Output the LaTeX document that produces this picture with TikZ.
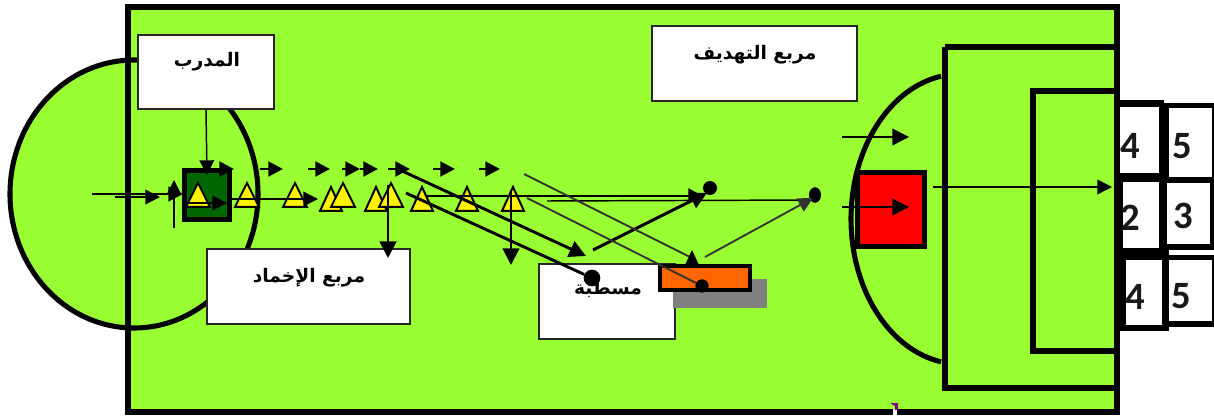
\documentclass[tikz,border=0pt]{standalone}
\usepackage{fontspec}
\usetikzlibrary{arrows.meta}
\TeXXeTstate=1
\newfontfamily\arabicfont[Script=Arabic]{DejaVu Sans}
\setmainfont{Carlito}
\definecolor{pitch}{HTML}{99FF33}
\definecolor{dgreen}{HTML}{006600}
\definecolor{orng}{HTML}{FF6600}
\tikzset{
  fieldline/.style={line width=4.3pt,draw=black},
  whitebox/.style={draw=black!85,line width=1.1pt,fill=white,inner sep=0pt},
  lbl/.style={font=\arabicfont\bfseries\fontsize{14}{16}\selectfont,text=black,inner sep=0pt},
  num/.style={font=\bfseries\fontsize{29}{31}\selectfont,text=black!90,inner sep=0pt},
  ball/.style={circle,fill=black,inner sep=0pt,minimum size=10.5pt},
  marker/.style={draw=black,fill=yellow,line width=1.5pt,line join=miter},
  tip/.style={-{Triangle[length=11pt,width=11pt]}},
  bigtip/.style={-{Triangle[length=12.5pt,width=12.5pt]}},
  thin line/.style={line width=1.1pt},
  mid line/.style={line width=1.7pt},
  thick line/.style={line width=2.2pt},
  faded/.style={line width=1.4pt,draw=black!80}
}
\newcommand{\ymark}[3]{\path[marker] (#1,#2) -- (#1+#3,#2+24) -- (#1-#3,#2+24) -- cycle;}
\begin{document}
\begin{tikzpicture}[x=0.75pt,y=-0.75pt]
\useasboundingbox (0,0) rectangle (1214,417);
% pitch
\fill[pitch] (134,194) ellipse[x radius=93pt,y radius=100.5pt];
\fill[pitch] (128,7) rectangle (1117,412);
\draw[line width=3.8pt] (134,194) ellipse[x radius=93pt,y radius=100.5pt];
\draw[fieldline] (128,7) rectangle (1117,412);
\draw[fieldline] (945,47) -- (1117,47) (945,47) -- (945,388) -- (1117,388);
\draw[fieldline] (1115,91) -- (1033,91) -- (1033,351) -- (1115,351);
\draw[line width=3.8pt] plot[domain=100:260,samples=70,smooth] ({960+109*cos(\x)},{219+145*sin(\x)});
% goal boxes
\fill[black] (1117,100) rectangle (1164,250);
\fill[black] (1164,103) rectangle (1214,250);
\fill[black] (1117,250) rectangle (1169,331);
\fill[black] (1169,255) rectangle (1214,327);
\fill[white] (1120,107) rectangle (1159,173);
\fill[white] (1169,108) rectangle (1212,177);
\fill[white] (1123,182) rectangle (1159,248);
\fill[white] (1167,183) rectangle (1210,244);
\fill[white] (1126,260) rectangle (1162,325);
\fill[white] (1169,260) rectangle (1212,321);
\fill[white] (1169,251.5) rectangle (1214,253);
\node[num] (n4a) at (1130,146) {4};
\node[num] (n5a) at (1182,146) {5};
\node[num] (n2)  at (1130,218) {2};
\node[num] (n3)  at (1183,216) {3};
\node[num] (n4b) at (1135,297) {4};
\node[num] (n5b) at (1181,296) {5};
% label boxes
\node[whitebox,minimum width=102pt,minimum height=55.5pt] (coach) at (206,72) {};
\node[lbl] (coachT) at (207,62) {\beginR المدرب\endR};
\node[whitebox,minimum width=153.5pt,minimum height=56pt] (target) at (754.5,63.5) {};
\node[lbl] (targetT) at (755,55) {\beginR مربع التهديف\endR};
\node[whitebox,minimum width=152pt,minimum height=56.5pt] (cool) at (308.5,286.5) {};
\node[lbl] (coolT) at (309,278) {\beginR مربع الإخماد\endR};
\node[whitebox,minimum width=102pt,minimum height=56pt] (bench) at (607,301.5) {};
\node[lbl] (benchT) at (608,289) {\beginR مسطبة\endR};
% bench block
\fill[black!50] (673,279) rectangle (767,308);
\node[draw=black,fill=orng,line width=3pt,inner sep=0pt,minimum width=67pt,minimum height=18pt] (block) at (705,277.5) {};
% squares
\node[draw=black,fill=dgreen,line width=3.7pt,inner sep=0pt,minimum width=34pt,minimum height=37pt] (start) at (207,195) {};
\node[draw=black,fill=red,line width=3.7pt,inner sep=0pt,minimum width=50pt,minimum height=55.5pt] (goalie) at (891,209.5) {};
% named ends
\foreach \n/\x/\y in {a1/92/194,a2/183/194,b1/115/197,b2/160/197,c1/174/228,c2/174/180,
  d2/207/175,e1/205/169,e2/234/169,f1/187/203,f2/227/203,g1/230/199,g2/318/199,
  h1/388/185,h2/388/258,i1/427/196,i2/703/196,j1/593/250,j2/707/193,k1/547/201,k2/812/200,m1/705/257,m2/813/198,
  n1/524/174,n2/692/258,o1/527/198,p1/400/170,p2/586/256,q1/406/193,
  r1/511/190,r2/511/265,s1/842/137,s2/909/137,u1/842/207,u2/909/207,v1/933/187,v2/1112/187,
  w1/260/169,w2/283/169,w3/308/169,w4/330/169,w5/342/169,w6/360/169,w7/378/169,w8/388/169,
  w9/410/169,w10/433/169,w11/455/169,w12/479/169,w13/500/169}
  {\coordinate (\n) at (\x,\y);}
% balls
\node[ball] (ballA) at (710,188) {};
\node[ball,minimum size=10pt] (ballC) at (702,286) {};
\node[ball,minimum size=12.5pt] (ballD) at (592,278) {};
\node[circle,fill=black,inner sep=0pt,minimum width=9pt,minimum height=9pt,yscale=1.3] (ballB) at (815,195) {};
% markers
\ymark{198}{183}{12}
\ymark{247}{183}{12}
\ymark{295}{183}{12}
\ymark{331}{187}{11}
\ymark{343}{183}{12}
\ymark{376}{187}{11}
\ymark{391}{183}{12}
\ymark{422}{187}{11}
\ymark{467}{187}{11}
\ymark{513}{187}{11}
% short arrows
\draw[thick line,tip] (e1) -- (e2);
\draw[thick line,tip] (w1) -- (w2);
\draw[thick line,tip] (w3) -- (w4);
\draw[thick line,tip] (w5) -- (w6);
\draw[thick line,tip] (w6) -- (w7);
\draw[thick line,tip] (w8) -- (w9);
\draw[thick line,tip] (w10) -- (w11);
\draw[thick line,tip] (w12) -- (w13);
% main flow
\draw[mid line,tip] (a1) -- (a2);
\draw[thin line,tip] (b1) -- (b2);
\draw[thin line,tip] (c1) -- (c2);
\draw[thin line,tip] (coach.south) -- (d2);
\draw[mid line,tip] (f1) -- (f2);
\draw[thin line,tip] (g1) -- (g2);
\draw[thick line,bigtip] (h1) -- (h2);
\draw[thick line,tip] (i1) -- (i2);
\draw[thick line,bigtip] (j1) -- (j2);
\draw[thin line] (k1) -- (k2);
\draw[faded,tip] (m1) -- (m2);
\draw[faded] (n1) -- (n2);
\fill[black] (692,250) -- (699,265) -- (685,265) -- cycle;
\draw[faded] (o1) -- (ballC);
\draw[thick line,bigtip] (p1) -- (p2);
\draw[thick line] (q1) -- (ballD);
\draw[mid line,bigtip] (r1) -- (r2);
\draw[thin line,bigtip] (s1) -- (s2);
\draw[thin line,bigtip] (u1) -- (u2);
\draw[thin line,tip] (v1) -- (v2);
% stray mark on the border
\fill[white] (893,409) rectangle (897,417);
\fill[violet] (890,403) -- (898,403) -- (898,410) -- (895,410) -- (895,406) -- cycle;
\end{tikzpicture}
\end{document}
